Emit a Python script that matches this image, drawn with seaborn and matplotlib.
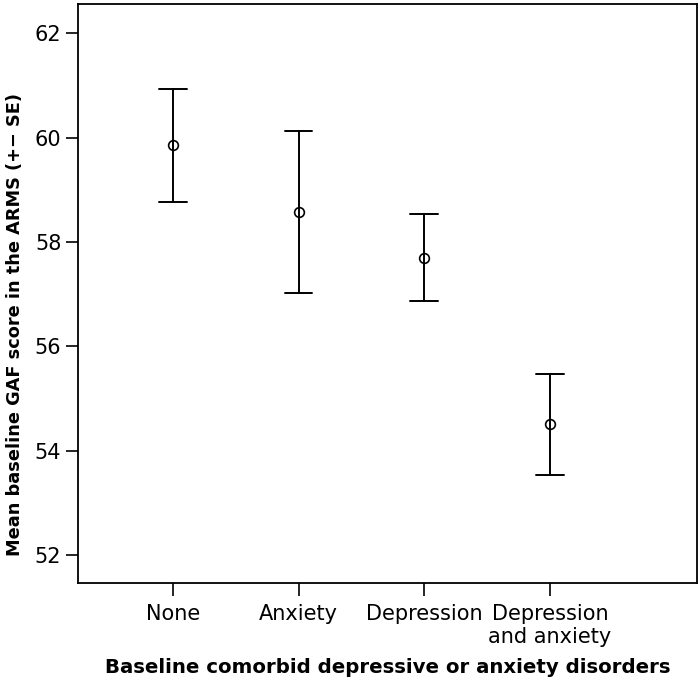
import pandas as pd
import matplotlib
matplotlib.use("Agg")
import matplotlib.pyplot as plt
import seaborn as sns

# categories and values
groups = ["None", "Anxiety", "Depression", "Depression\nand anxiety"]
mean_gaf = [59.85, 58.57, 57.70, 54.50]
se_gaf = [1.08, 1.55, 0.84, 0.97]

# long table: mean - SE, mean, mean + SE for each group
rows = []
for g, m, s in zip(groups, mean_gaf, se_gaf):
    for v in (m - s, m, m + s):
        rows.append({"group": g, "gaf": v})
df = pd.DataFrame(rows)

sns.set_style("ticks")
plt.rcParams['font.family'] = ['DejaVu Sans']
plt.rcParams['text.color'] = 'black'
plt.rcParams['axes.labelcolor'] = 'black'
plt.rcParams['xtick.color'] = 'black'
plt.rcParams['ytick.color'] = 'black'

fig = plt.figure(figsize=(7, 6.86), dpi=100)
ax = fig.add_axes([0.1114, 0.1501, 0.8843, 0.8441])

# mean with min/max of the triple = mean +- SE
sns.pointplot(data=df, x="group", y="gaf", order=groups,
              estimator="mean", errorbar=("pi", 100),
              color="black", linestyle="none", marker="o",
              markersize=7, markerfacecolor="white", markeredgewidth=1.2,
              capsize=0.22, err_kws={"linewidth": 1.4}, ax=ax)

ax.set_xlim(-0.755, 4.17)
ax.set_ylim(51.46, 62.56)
ax.set_yticks([52, 54, 56, 58, 60, 62])

for sp in ax.spines.values():
    sp.set_visible(True)
    sp.set_linewidth(1.3)
    sp.set_color("black")

ax.tick_params(axis="both", direction="out", length=9, width=1.2,
               labelsize=15, color="black", labelcolor="black")
ax.tick_params(axis="x", pad=6)
ax.tick_params(axis="y", pad=3)
ax.set_xlabel("Baseline comorbid depressive or anxiety disorders",
              fontsize=14.2, fontweight="bold", labelpad=8)
ax.set_ylabel("Mean baseline GAF score in the ARMS (+\u2212 SE)",
              fontsize=12.8, fontweight="bold")
ax.yaxis.set_label_coords(-0.088, 0.446)

fig.savefig("out.png", dpi=100)
